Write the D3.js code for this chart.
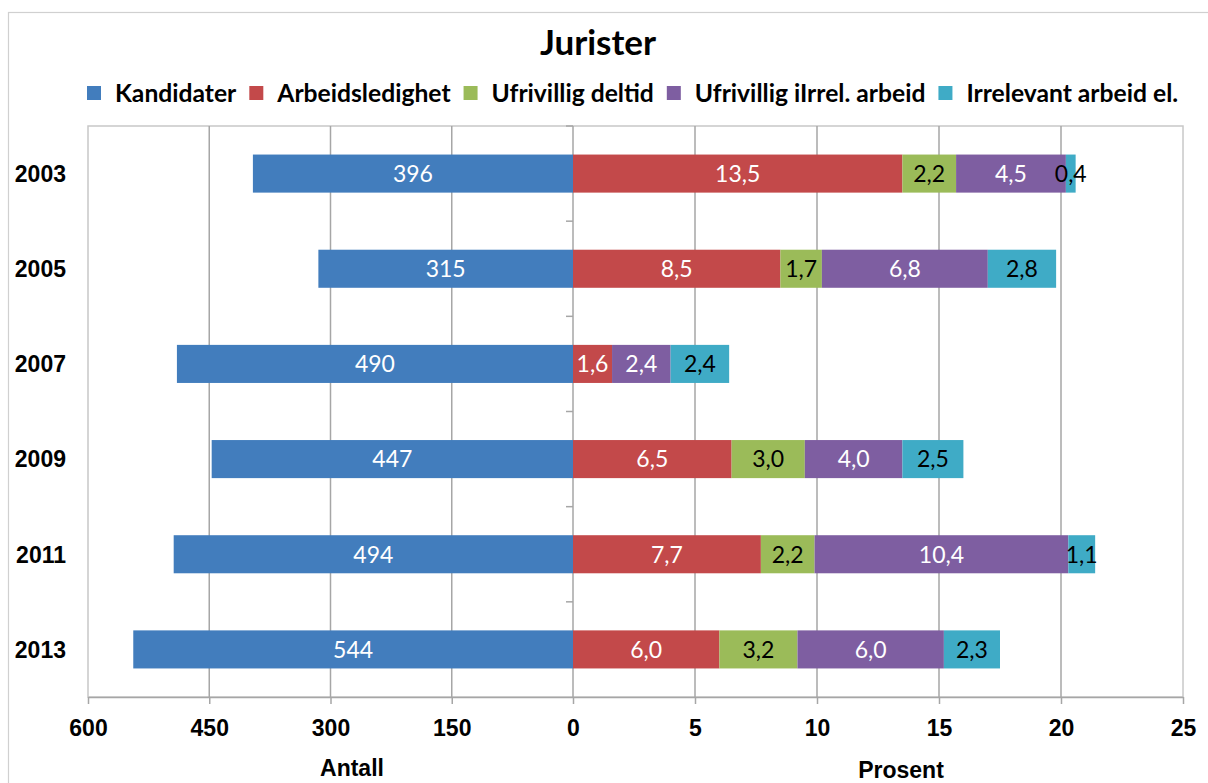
<!DOCTYPE html>
<html>
<head>
<meta charset="utf-8">
<script src="https://cdn.jsdelivr.net/npm/d3@7"></script>
<style>
  html, body { margin: 0; padding: 0; background: #fff; }
  svg { display: block; }
</style>
</head>
<body>
<svg id="chart" width="1208" height="783"></svg>
<script>
// Graduate counts (left) and unemployment breakdown in percent (right)
const years = ["2003", "2005", "2007", "2009", "2011", "2013"];
const kandidater = [396, 315, 490, 447, 494, 544];
const arbeidsledighet = [13.5, 8.5, 1.6, 6.5, 7.7, 6.0];
const ufrivilligDeltid = [2.2, 1.7, null, 3.0, 2.2, 3.2];
const ufrivilligIrrel = [4.5, 6.8, 2.4, 4.0, 10.4, 6.0];
const irrelevantArbeid = [0.4, 2.8, 2.4, 2.5, 1.1, 2.3];

const seriesNames = ["Kandidater", "Arbeidsledighet", "Ufrivillig deltid", "Ufrivillig iIrrel. arbeid", "Irrelevant arbeid el."];
const leftTicks = [600, 450, 300, 150, 0];
const rightTicks = [5, 10, 15, 20, 25];

const colors = ["#427dbd", "#c3494a", "#9bbb59", "#7e5ea1", "#3fabc6"];
const labelColors = ["#fff", "#fff", "#000", "#fff", "#000"];

const svg = d3.select("#chart");
const plot = { left: 88, right: 1183, top: 126, bottom: 697 };
const mid = 573;

const xLeft = d3.scaleLinear().domain([0, 600]).range([mid, plot.left]);
const xRight = d3.scaleLinear().domain([0, 25]).range([mid, plot.right]);
const y = d3.scaleBand().domain(years).range([plot.top, plot.bottom]).paddingInner(0.6).paddingOuter(0.3);

const titleFont = "Lato, 'Open Sans', sans-serif";
const axisFont = "'Liberation Sans', Arial, sans-serif";
const labelFont = "Lato, 'Open Sans', sans-serif";

// outer chart frame
svg.append("rect").attr("x", 8.5).attr("y", 12.5).attr("width", 1210).attr("height", 800)
  .attr("fill", "none").attr("stroke", "#d0d0d0").attr("stroke-width", 1.2);

// title
svg.append("text").attr("x", 598).attr("y", 55).attr("text-anchor", "middle")
  .style("font-family", titleFont).style("font-weight", 700).style("font-size", "35px")
  .text("Jurister");

// legend, laid out left to right across the plot width
const legendLeft = 87, legendRight = 1179, markerGap = 28, itemGap = 13;
const legend = svg.append("g");
const legendItems = legend.selectAll("g").data(seriesNames).join("g");
legendItems.append("rect").attr("width", 14).attr("height", 14).attr("y", 86)
  .attr("fill", (d, i) => colors[i]);
const legendTexts = legendItems.append("text").attr("x", markerGap).attr("y", 102)
  .style("font-family", titleFont).style("font-weight", 700).style("font-size", "24px")
  .text(d => d);
function textSum() {
  let s = 0;
  legendTexts.each(function () { s += this.getComputedTextLength(); });
  return s;
}
const fixed = seriesNames.length * markerGap + (seriesNames.length - 1) * itemGap;
const fitSize = 24 * (legendRight - legendLeft - fixed) / textSum();
legendTexts.style("font-size", fitSize + "px");
let cursor = legendLeft;
const offsets = [];
legendTexts.each(function () {
  offsets.push(cursor);
  cursor += markerGap + this.getComputedTextLength() + itemGap;
});
legendItems.attr("transform", (d, i) => `translate(${offsets[i]},0)`);

// plot frame
svg.append("rect").attr("x", plot.left).attr("y", plot.top)
  .attr("width", plot.right - plot.left).attr("height", plot.bottom - plot.top)
  .attr("fill", "none").attr("stroke", "#c8c8c8").attr("stroke-width", 1.5);

// vertical gridlines
const grid = svg.append("g").attr("stroke", "#a6a6a6").attr("stroke-width", 1.5);
grid.selectAll("line.l").data(leftTicks.filter(t => t !== 0 && t !== 600)).join("line")
  .attr("x1", d => xLeft(d)).attr("x2", d => xLeft(d)).attr("y1", plot.top).attr("y2", plot.bottom);
grid.selectAll("line.r").data(rightTicks.filter(t => t !== 25)).join("line")
  .attr("x1", d => xRight(d)).attr("x2", d => xRight(d)).attr("y1", plot.top).attr("y2", plot.bottom);

// central category axis with ticks at band boundaries
const cat = svg.append("g").attr("stroke", "#a6a6a6").attr("stroke-width", 1.5);
cat.append("line").attr("x1", mid).attr("x2", mid).attr("y1", plot.top).attr("y2", plot.bottom);
cat.selectAll("line.t").data(years.map((yr, i) => plot.top + i * y.step() * (plot.bottom - plot.top) / (y.step() * years.length))).join("line")
  .attr("x1", mid - 7).attr("x2", mid).attr("y1", d => d).attr("y2", d => d);

// bottom axes
function styleAxis(g) {
  g.select(".domain").attr("stroke", "#a6a6a6").attr("stroke-width", 1.5);
  g.selectAll(".tick line").attr("stroke", "#a6a6a6").attr("stroke-width", 1.5);
  g.selectAll(".tick text").attr("fill", "#000").attr("y", 39).attr("dy", null)
    .style("font-family", axisFont).style("font-weight", 700).style("font-size", "23px");
}
svg.append("g").attr("transform", `translate(0,${plot.bottom})`)
  .call(d3.axisBottom(xLeft).tickValues(leftTicks).tickSize(7).tickSizeOuter(0).tickFormat(d3.format("d")))
  .call(styleAxis);
svg.append("g").attr("transform", `translate(0,${plot.bottom})`)
  .call(d3.axisBottom(xRight).tickValues(rightTicks).tickSize(7).tickSizeOuter(0).tickFormat(d3.format("d")))
  .call(styleAxis);

// axis titles
svg.append("text").attr("x", 352).attr("y", 776).attr("text-anchor", "middle")
  .style("font-family", axisFont).style("font-weight", 700).style("font-size", "23px").text("Antall");
svg.append("text").attr("x", 901).attr("y", 778).attr("text-anchor", "middle")
  .style("font-family", axisFont).style("font-weight", 700).style("font-size", "23px").text("Prosent");

// category labels
svg.append("g").selectAll("text").data(years).join("text")
  .attr("x", 66).attr("y", d => y(d) + y.bandwidth() / 2).attr("dy", "0.36em").attr("text-anchor", "end")
  .style("font-family", axisFont).style("font-weight", 700).style("font-size", "23px").text(d => d);

const fmt = v => d3.format(".1f")(v).replace(".", ",");

// left bars: graduates
const leftG = svg.append("g");
leftG.selectAll("rect").data(kandidater).join("rect")
  .attr("x", d => xLeft(d)).attr("width", d => mid - xLeft(d))
  .attr("y", (d, i) => y(years[i])).attr("height", y.bandwidth())
  .attr("fill", colors[0]);
leftG.selectAll("text").data(kandidater).join("text")
  .attr("x", d => (xLeft(d) + mid) / 2).attr("y", (d, i) => y(years[i]) + y.bandwidth() / 2)
  .attr("dy", "0.36em").attr("text-anchor", "middle").attr("fill", labelColors[0])
  .style("font-family", labelFont).style("font-size", "23px").text(d => d);

// right stacked bars: percentages
const pctSeries = [arbeidsledighet, ufrivilligDeltid, ufrivilligIrrel, irrelevantArbeid];
const rows = years.map((yr, i) => {
  const r = { year: yr };
  pctSeries.forEach((s, k) => { r["s" + k] = s[i] || 0; });
  return r;
});
const stack = d3.stack().keys(pctSeries.map((s, k) => "s" + k))(rows);
const segments = stack.map((layer, k) => layer
  .map((seg, i) => ({ x0: seg[0], x1: seg[1], year: years[i], v: pctSeries[k][i], k }))
  .filter(s => s.v != null));
const rightG = svg.append("g");
segments.forEach(segs => {
  rightG.append("g").selectAll("rect").data(segs).join("rect")
    .attr("x", d => xRight(d.x0)).attr("width", d => xRight(d.x1) - xRight(d.x0))
    .attr("y", d => y(d.year)).attr("height", y.bandwidth())
    .attr("fill", d => colors[d.k + 1]);
});
segments.forEach(segs => {
  rightG.append("g").selectAll("text").data(segs).join("text")
    .attr("x", d => (xRight(d.x0) + xRight(d.x1)) / 2).attr("y", d => y(d.year) + y.bandwidth() / 2)
    .attr("dy", "0.36em").attr("text-anchor", "middle").attr("fill", d => labelColors[d.k + 1])
    .style("font-family", labelFont).style("font-size", "23px").text(d => fmt(d.v));
});
</script>
</body>
</html>
